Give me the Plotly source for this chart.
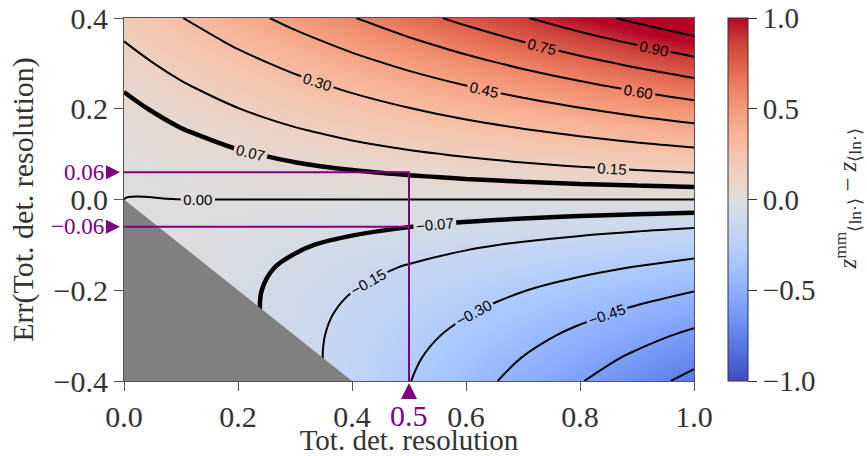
import plotly.graph_objects as go

# ---------------- data ----------------
resolution = [0.0, 0.1, 0.2, 0.3, 0.4, 0.5, 0.6, 0.7, 0.8, 0.9, 1.0]
resolution_err = [-0.40, -0.35, -0.30, -0.25, -0.20, -0.15, -0.10, -0.05, 0.00,
                  0.05, 0.10, 0.15, 0.20, 0.25, 0.30, 0.35, 0.40]
# z^mm - z, rows follow resolution_err, columns follow resolution
z_diff = [
    [0.1975, 0.0988, 0.0000, -0.0988, -0.1975, -0.2963, -0.3951, -0.4938, -0.5926, -0.6914, -0.7901],
    [0.1512, 0.0648, -0.0216, -0.1080, -0.1945, -0.2809, -0.3673, -0.4537, -0.5401, -0.6265, -0.7130],
    [0.1111, 0.0370, -0.0370, -0.1111, -0.1852, -0.2593, -0.3333, -0.4074, -0.4815, -0.5556, -0.6297],
    [0.0772, 0.0154, -0.0463, -0.1080, -0.1698, -0.2315, -0.2932, -0.3549, -0.4167, -0.4784, -0.5401],
    [0.0494, 0.0000, -0.0494, -0.0988, -0.1481, -0.1975, -0.2469, -0.2963, -0.3457, -0.3951, -0.4444],
    [0.0278, -0.0093, -0.0463, -0.0833, -0.1204, -0.1574, -0.1944, -0.2315, -0.2685, -0.3056, -0.3426],
    [0.0123, -0.0123, -0.0370, -0.0617, -0.0864, -0.1111, -0.1358, -0.1605, -0.1852, -0.2099, -0.2346],
    [0.0031, -0.0093, -0.0216, -0.0340, -0.0463, -0.0586, -0.0710, -0.0833, -0.0957, -0.1080, -0.1204],
    [0.0000, 0.0000, 0.0000, 0.0000, 0.0000, 0.0000, 0.0000, 0.0000, 0.0000, 0.0000, 0.0000],
    [0.0031, 0.0154, 0.0278, 0.0401, 0.0525, 0.0648, 0.0772, 0.0895, 0.1019, 0.1142, 0.1265],
    [0.0123, 0.0370, 0.0617, 0.0864, 0.1111, 0.1358, 0.1605, 0.1852, 0.2099, 0.2346, 0.2593],
    [0.0278, 0.0648, 0.1019, 0.1389, 0.1759, 0.2130, 0.2500, 0.2870, 0.3241, 0.3611, 0.3982],
    [0.0494, 0.0988, 0.1481, 0.1975, 0.2469, 0.2963, 0.3457, 0.3951, 0.4444, 0.4938, 0.5432],
    [0.0772, 0.1389, 0.2006, 0.2624, 0.3241, 0.3858, 0.4476, 0.5093, 0.5710, 0.6327, 0.6945],
    [0.1111, 0.1852, 0.2593, 0.3333, 0.4074, 0.4815, 0.5556, 0.6297, 0.7037, 0.7778, 0.8519],
    [0.1512, 0.2376, 0.3240, 0.4105, 0.4969, 0.5833, 0.6697, 0.7561, 0.8426, 0.9290, 1.0154],
    [0.1975, 0.2963, 0.3951, 0.4938, 0.5926, 0.6914, 0.7901, 0.8889, 0.9877, 1.0864, 1.1852],
]
level_start, level_end, level_step = -0.90, 1.05, 0.15
thick_levels = [-0.07, 0.07]
marked_resolution = 0.5
marked_errs = [0.06, -0.06]
marked_err_labels = ["0.06", "\u22120.06"]
marked_res_label = "0.5"
x_range = [0.0, 1.0]
y_range = [-0.4, 0.4]
x_ticks = [0.0, 0.2, 0.4, 0.6, 0.8, 1.0]
y_ticks = [-0.4, -0.2, 0.0, 0.2, 0.4]
cbar_ticks = [-1.0, -0.5, 0.0, 0.5, 1.0]

# ---------------- style ----------------
W, H = 867, 456
ML, MR, MT, MB = 124, 173, 18, 75
PW, PH = W - ML - MR, H - MT - MB
SERIF = "Liberation Serif"
PURPLE = "#800080"
TXT = "#333"
coolwarm = [
    [0.0, "rgb(59,76,192)"], [0.0625, "rgb(77,104,215)"], [0.125, "rgb(98,130,234)"],
    [0.1875, "rgb(119,154,247)"], [0.25, "rgb(141,176,254)"], [0.3125, "rgb(163,194,255)"],
    [0.375, "rgb(184,208,249)"], [0.4375, "rgb(204,217,238)"], [0.5, "rgb(221,221,221)"],
    [0.5625, "rgb(236,211,197)"], [0.625, "rgb(245,196,172)"], [0.6875, "rgb(247,177,147)"],
    [0.75, "rgb(244,154,123)"], [0.8125, "rgb(236,127,99)"], [0.875, "rgb(222,96,77)"],
    [0.9375, "rgb(203,62,56)"], [1.0, "rgb(180,4,38)"],
]

def fmt(v):
    s = f"{abs(v):.1f}"
    return ("\u2212" + s) if v < 0 else s

fig = go.Figure()

# smooth colour field
fig.add_trace(go.Heatmap(
    x=resolution, y=resolution_err, z=z_diff, zsmooth="best",
    colorscale=coolwarm, zmin=-1, zmax=1,
    colorbar=dict(
        x=(728 - ML) / PW, xanchor="left", xpad=0, ypad=0,
        y=0.5, yanchor="middle", len=1, lenmode="fraction",
        thickness=20, thicknessmode="pixels",
        outlinewidth=1, outlinecolor=TXT,
        tickvals=cbar_ticks, ticktext=[fmt(v) for v in cbar_ticks],
        ticks="outside", ticklen=9, tickcolor=TXT, tickwidth=1,
        tickfont=dict(family=SERIF, size=29, color=TXT),
    ),
    hoverinfo="skip",
))

label_font = dict(family="Liberation Sans", size=15, color="black")

# regular contour lines
fig.add_trace(go.Contour(
    x=resolution, y=resolution_err, z=z_diff,
    contours=dict(coloring="none", start=level_start, end=level_end, size=level_step,
                  showlabels=True, labelformat=".2f", labelfont=label_font),
    line=dict(color="black", width=2, smoothing=1.0),
    showscale=False, hoverinfo="skip",
))

# thick contour lines
fig.add_trace(go.Contour(
    x=resolution, y=resolution_err, z=z_diff,
    contours=dict(coloring="none", start=thick_levels[0], end=thick_levels[1],
                  size=thick_levels[1] - thick_levels[0],
                  showlabels=True, labelformat=".2f", labelfont=label_font),
    line=dict(color="black", width=4.5, smoothing=1.0),
    showscale=False, hoverinfo="skip",
))

# unphysical region (resolution + error < 0)
fig.add_trace(go.Scatter(
    x=[x_range[0], -y_range[0], x_range[0], x_range[0]],
    y=[x_range[0], y_range[0], y_range[0], x_range[0]],
    mode="lines", fill="toself", fillcolor="rgb(128,128,128)",
    line=dict(width=0, color="rgb(128,128,128)"), hoverinfo="skip", showlegend=False,
))

# purple guide lines
fig.add_trace(go.Scatter(
    x=[x_range[0], marked_resolution, marked_resolution, None, x_range[0], marked_resolution],
    y=[marked_errs[0], marked_errs[0], y_range[0], None, marked_errs[1], marked_errs[1]],
    mode="lines", line=dict(color=PURPLE, width=2), hoverinfo="skip", showlegend=False,
))

# purple triangle markers just outside the axes (pixel-sized glyphs)
shapes = []
for v in marked_errs:
    shapes.append(dict(
        type="path", xref="paper", yref="y", xsizemode="pixel", ysizemode="pixel",
        xanchor=0, yanchor=v, path="M -18,7 L -4,0 L -18,-7 Z",
        fillcolor=PURPLE, line=dict(width=0), layer="above",
    ))
shapes.append(dict(
    type="path", xref="x", yref="paper", xsizemode="pixel", ysizemode="pixel",
    xanchor=marked_resolution, yanchor=0, path="M -8,-18 L 8,-18 L 0,-2 Z",
    fillcolor=PURPLE, line=dict(width=0), layer="above",
))

annotations = []
for v, t in zip(marked_errs, marked_err_labels):
    annotations.append(dict(
        x=0, xref="paper", y=v, yref="y", text=t, showarrow=False,
        xanchor="right", yanchor="middle", xshift=-18,
        font=dict(family=SERIF, size=23, color=PURPLE),
    ))
annotations.append(dict(
    x=marked_resolution, xref="x", y=0, yref="paper", text=marked_res_label,
    showarrow=False, xanchor="center", yanchor="top", yshift=-16,
    font=dict(family=SERIF, size=30, color=PURPLE),
))
annotations.append(dict(
    x=(847 - ML) / PW, xref="paper", y=0.5, yref="paper", textangle=-90,
    text="<i>z</i><sup>mm</sup><sub>\u27e8ln\u00b7\u27e9</sub> \u2212 <i>z</i><sub>\u27e8ln\u00b7\u27e9</sub>",
    showarrow=False, xanchor="center", yanchor="middle",
    font=dict(family=SERIF, size=25, color=TXT),
))

axis_common = dict(
    showgrid=False, zeroline=False, showline=True, linecolor="#555", linewidth=1.2,
    mirror=True, ticks="outside", ticklen=9, tickwidth=1, tickcolor="#555",
    tickfont=dict(family=SERIF, size=30, color=TXT), automargin=False,
)
fig.update_layout(
    width=W, height=H, margin=dict(l=ML, r=MR, t=MT, b=MB, autoexpand=False),
    paper_bgcolor="white", plot_bgcolor="white",
    showlegend=False, annotations=annotations, shapes=shapes,
    xaxis=dict(range=x_range, tickvals=x_ticks, ticktext=[fmt(v) for v in x_ticks],
               title=dict(text="Tot. det. resolution", standoff=13,
                          font=dict(family=SERIF, size=29, color=TXT)),
               **axis_common),
    yaxis=dict(range=y_range, tickvals=y_ticks, ticktext=[fmt(v) for v in y_ticks],
               title=dict(text="Err(Tot. det. resolution)", standoff=10,
                          font=dict(family=SERIF, size=30, color=TXT)),
               **axis_common),
)

fig.write_html("out.html", config={"displayModeBar": False},
               post_script="document.body.style.margin='0';")
